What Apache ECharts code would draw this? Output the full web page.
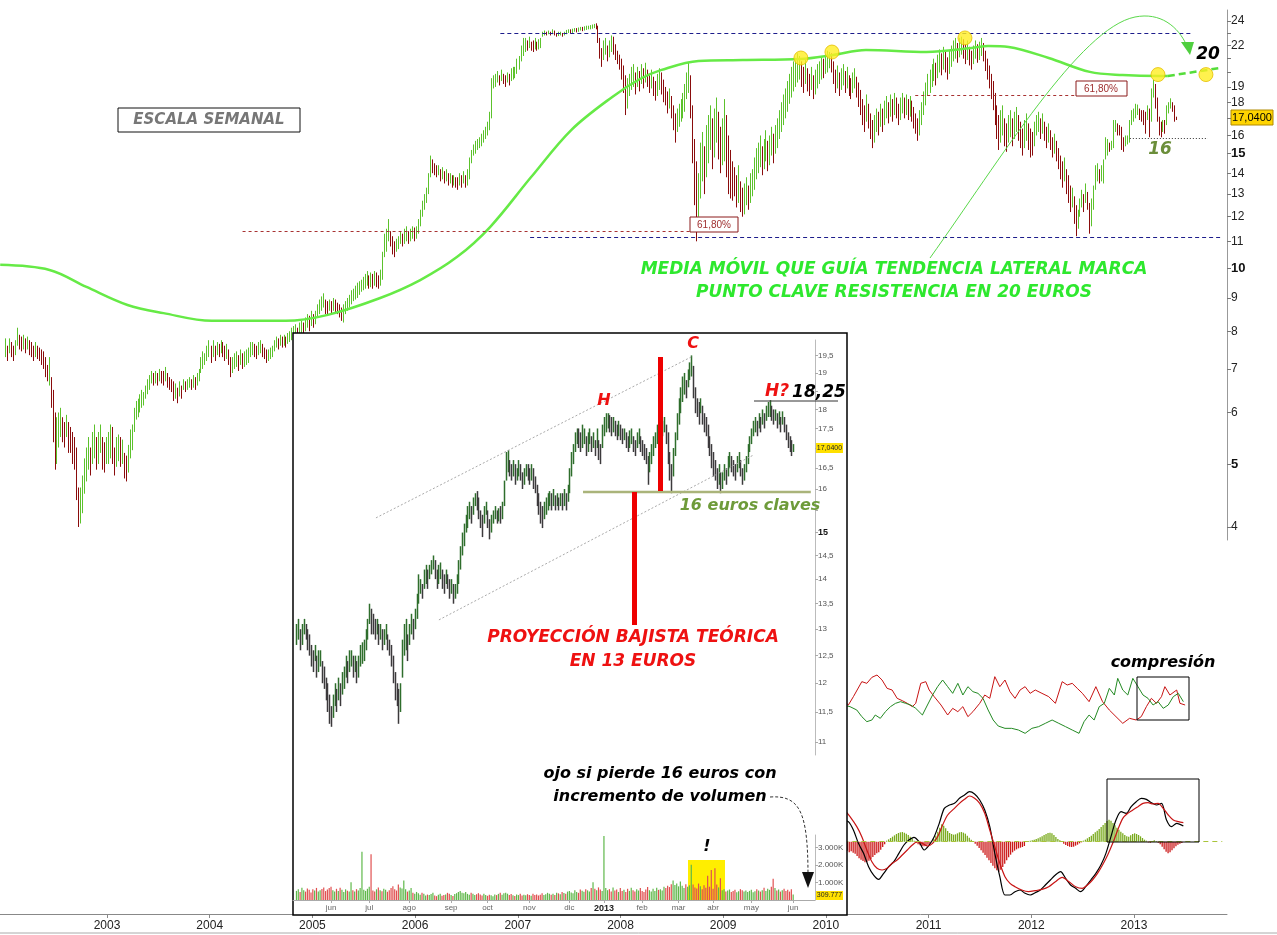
<!DOCTYPE html>
<html><head><meta charset="utf-8">
<script src="https://cdn.jsdelivr.net/npm/echarts@6.0.0/dist/echarts.min.js"></script>
<style>html,body{margin:0;padding:0;background:#fff}#c{width:1277px;height:935px}</style>
</head><body><div id="c"></div>
<script>
// ---------- WEEKLY PRICE (low, high) per week, by year ----------
const w2002=[[7.3,7.8],[7.2,7.6],[7.4,7.8],[7.3,7.7],[7.2,7.6],[7.35,7.75],[7.6,8.1],[7.5,7.9],[7.45,7.85],[7.5,7.9],
[7.4,7.8],[7.5,7.85],[7.35,7.75],[7.3,7.7],[7.2,7.6],[7.3,7.7],[7.25,7.6],[7.2,7.55],[7.1,7.5],[7.0,7.45],
[6.8,7.3],[6.7,7.1],[6.6,7.3],[6.1,6.8],[5.4,6.5],[4.9,6.0],[5.0,5.9],[5.3,6.0],[5.5,6.1],[5.4,5.9],
[5.3,5.8],[5.5,5.95],[5.2,5.8],[5.2,5.7],[5.0,5.6],[4.9,5.5],[4.4,5.3],[4.0,4.6],[4.05,4.6],[4.2,4.8],
[4.5,5.1],[4.7,5.3],[4.9,5.5],[4.8,5.3],[5.0,5.6],[5.1,5.75],[4.9,5.5],[5.0,5.6],[5.2,5.75],[4.9,5.5],
[4.85,5.4],[5.0,5.5]];
const w2003=[[5.0,5.6],[5.1,5.75],[5.0,5.7],[4.8,5.3],[4.95,5.5],[5.05,5.55],[4.95,5.5],[5.0,5.45],[4.75,5.2],[4.7,5.15],
[4.85,5.35],[5.1,5.65],[5.25,5.75],[5.6,6.1],[5.85,6.25],[5.9,6.3],[6.0,6.4],[6.1,6.5],[6.15,6.45],[6.3,6.6],
[6.4,6.75],[6.5,6.85],[6.65,6.95],[6.6,6.9],[6.65,6.95],[6.6,6.9],[6.7,7.0],[6.65,6.95],[6.6,6.95],[6.7,7.05],
[6.55,6.9],[6.5,6.8],[6.45,6.75],[6.25,6.7],[6.3,6.65],[6.2,6.55],[6.35,6.7],[6.3,6.6],[6.5,6.75],[6.45,6.7],
[6.5,6.75],[6.55,6.8],[6.5,6.75],[6.55,6.85],[6.5,6.8],[6.6,6.9],[6.7,7.0],[6.9,7.3],[7.0,7.45],[7.1,7.4],
[7.2,7.6],[7.3,7.75]];
const w2004=[[7.15,7.6],[7.3,7.75],[7.2,7.6],[7.35,7.7],[7.3,7.65],[7.4,7.75],[7.3,7.7],[7.2,7.6],[7.25,7.65],[7.1,7.5],
[6.8,7.3],[6.9,7.3],[7.0,7.4],[7.05,7.45],[6.95,7.35],[7.1,7.5],[7.0,7.4],[7.05,7.45],[7.1,7.5],[7.15,7.55],
[7.3,7.7],[7.35,7.7],[7.3,7.65],[7.25,7.6],[7.35,7.7],[7.4,7.75],[7.3,7.65],[7.25,7.55],[7.15,7.5],[7.2,7.5],
[7.25,7.55],[7.3,7.6],[7.45,7.75],[7.55,7.85],[7.5,7.8],[7.6,7.9],[7.55,7.85],[7.6,7.9],[7.55,7.85],[7.65,7.95],
[7.7,8.0],[7.75,8.1],[7.8,8.15],[7.8,8.2],[7.75,8.1],[7.85,8.25],[7.9,8.3],[7.85,8.25],[8.0,8.4],[8.1,8.5],
[8.0,8.45],[8.15,8.6]];
const w2005=[[8.1,8.5],[8.2,8.6],[8.4,8.8],[8.5,8.95],[8.6,9.05],[8.7,9.15],[8.5,8.95],[8.45,8.9],[8.6,8.95],[8.5,8.9],
[8.6,9.0],[8.55,8.95],[8.5,8.85],[8.4,8.8],[8.3,8.7],[8.25,8.8],[8.5,8.9],[8.6,9.0],[8.7,9.1],[8.8,9.25],
[8.9,9.3],[8.95,9.4],[9.0,9.5],[9.1,9.55],[9.2,9.6],[9.25,9.7],[9.3,9.8],[9.4,9.9],[9.3,9.75],[9.35,9.85],
[9.3,9.8],[9.4,9.9],[9.35,9.85],[9.3,9.75],[9.4,9.95],[9.6,10.6],[10.4,11.3],[10.6,11.5],[11.0,11.9],[10.8,11.4],
[10.5,11.2],[10.4,11.0],[10.6,11.1],[10.7,11.2],[10.9,11.4],[10.8,11.3],[10.9,11.5],[11.0,11.6],[10.9,11.4],[11.0,11.5],
[11.1,11.6],[11.0,11.55]];
const w2006=[[11.1,11.6],[11.3,11.9],[11.6,12.3],[12.0,12.7],[12.3,13.0],[12.6,13.3],[13.0,14.0],[13.8,14.9],[14.0,14.7],[13.9,14.5],
[13.8,14.4],[13.9,14.4],[13.6,14.2],[13.7,14.3],[13.5,14.1],[13.6,14.2],[13.4,14.0],[13.5,14.0],[13.3,13.9],[13.4,13.9],
[13.3,13.8],[13.2,13.8],[13.4,14.0],[13.3,13.9],[13.5,14.1],[13.3,13.9],[13.4,14.2],[13.7,14.8],[14.5,15.2],[14.9,15.5],
[15.0,15.7],[15.2,15.8],[15.3,15.9],[15.4,16.1],[15.6,16.3],[15.8,16.5],[16.0,16.8],[16.3,17.4],[17.0,19.6],[18.9,19.8],
[19.0,19.9],[19.3,20.1],[19.1,19.8],[19.4,20.2],[19.2,19.9],[19.0,19.8],[19.3,20.0],[19.1,19.9],[19.4,20.3],[19.5,20.4],
[19.6,20.4],[19.9,21.0]];
const w2007=[[20.2,21.2],[20.8,22.0],[21.2,22.6],[21.5,22.6],[21.6,22.4],[21.8,22.7],[21.6,22.3],[21.5,22.4],[21.7,22.6],[21.6,22.3],
[21.7,22.5],[21.8,22.6],[22.7,23.1],[22.8,23.2],[22.8,23.1],[22.9,23.2],[22.8,23.1],[22.9,23.3],[22.8,23.2],[22.7,23.0],
[22.75,23.1],[22.8,23.1],[22.7,23.0],[22.8,23.1],[22.9,23.25],[23.0,23.3],[22.95,23.3],[23.0,23.35],[23.1,23.4],[23.05,23.4],
[23.1,23.45],[23.2,23.5],[23.15,23.5],[23.2,23.55],[23.25,23.6],[23.3,23.6],[23.3,23.65],[23.35,23.7],[23.4,23.75],[23.3,23.8],
[22.2,23.6],[21.0,22.6],[20.4,21.8],[20.9,22.4],[21.3,22.6],[20.8,22.0],[21.1,22.4],[21.5,22.8],[21.3,22.7],[20.9,22.1],
[20.6,21.6],[20.2,21.3]];
const w2008=[[19.5,21.0],[18.6,20.5],[17.2,19.8],[17.6,19.6],[18.4,19.9],[18.8,20.4],[19.0,20.6],[18.5,20.0],[19.0,20.4],[18.7,20.1],
[19.2,20.6],[18.9,20.3],[19.3,20.7],[19.0,20.2],[18.6,19.8],[18.9,20.2],[18.4,19.7],[18.1,19.4],[18.4,19.9],[18.8,20.3],
[18.5,20.0],[18.0,19.5],[17.8,19.0],[17.3,18.7],[17.6,18.9],[17.0,18.4],[16.3,17.8],[15.6,17.3],[16.2,17.6],[16.5,17.9],
[16.8,18.2],[17.0,18.6],[17.4,19.2],[18.2,20.0],[18.6,20.7],[17.0,19.8],[14.5,17.8],[12.5,15.8],[11.0,14.6],[12.0,14.0],
[12.8,15.6],[13.6,16.2],[13.0,15.4],[13.8,16.6],[14.5,17.2],[15.2,17.8],[14.2,17.0],[14.8,17.6],[15.6,18.3],[14.7,17.4],
[14.0,16.5],[14.4,17.0]];
const w2009=[[14.6,18.2],[13.8,17.2],[13.0,16.0],[12.8,15.2],[12.7,14.6],[12.9,14.3],[12.4,13.9],[12.6,14.4],[12.2,13.6],[12.0,13.3],
[12.1,13.5],[12.5,13.8],[12.3,13.4],[12.6,14.0],[12.9,14.2],[13.2,14.8],[13.7,15.3],[14.0,15.6],[14.3,16.0],[13.9,15.4],
[14.2,15.8],[14.6,16.3],[14.1,15.7],[14.4,16.0],[14.9,16.5],[14.5,16.1],[15.0,16.6],[15.3,17.0],[15.8,17.5],[16.2,18.0],
[16.6,18.5],[17.0,18.9],[17.4,19.4],[17.9,19.9],[18.3,20.4],[18.7,20.8],[19.0,21.0],[19.3,21.4],[19.5,21.2],[19.0,20.8],
[18.6,20.4],[19.2,20.9],[18.7,20.3],[18.4,19.9],[18.8,20.4],[18.2,19.8],[18.5,20.2],[18.9,20.6],[19.2,20.8],[19.5,21.2],
[19.6,21.0],[19.9,21.3]];
const w2010=[[20.0,21.6],[20.3,21.5],[20.0,21.4],[19.2,20.8],[18.6,20.2],[18.9,20.5],[18.4,20.0],[18.8,20.3],[19.1,20.6],[18.6,20.1],
[18.9,20.4],[18.4,19.8],[18.2,19.6],[18.6,20.0],[18.9,20.3],[18.3,19.7],[17.7,19.3],[17.2,18.8],[16.6,18.2],[16.2,17.8],
[16.8,18.5],[16.4,17.9],[15.8,17.3],[15.3,16.9],[15.6,17.2],[16.2,17.6],[16.0,17.4],[16.5,17.9],[16.2,17.6],[16.6,18.1],
[17.0,18.4],[16.7,18.0],[17.1,18.5],[16.8,18.2],[17.2,18.6],[17.0,18.3],[16.6,17.9],[16.9,18.3],[17.3,18.6],[17.0,18.3],
[17.2,18.5],[16.9,18.2],[17.1,18.4],[16.8,18.1],[16.4,17.7],[16.1,17.3],[15.7,17.0],[16.0,17.5],[16.6,18.0],[17.2,18.7],
[17.8,19.3],[18.4,19.9]];
const w2011=[[18.6,20.2],[19.0,20.6],[19.4,21.0],[19.1,20.7],[19.6,21.3],[20.0,21.7],[19.8,21.4],[20.2,21.9],[20.0,21.6],[19.5,21.1],
[19.9,21.6],[20.4,22.0],[20.8,22.4],[21.0,22.6],[20.7,22.2],[21.1,22.6],[21.3,22.7],[21.0,22.5],[20.6,22.1],[20.9,22.4],
[20.5,21.9],[20.2,21.6],[20.6,22.0],[21.0,22.4],[20.7,22.1],[20.9,22.3],[21.2,22.6],[20.8,22.2],[20.1,21.6],[19.5,21.0],
[18.9,20.5],[18.2,19.9],[17.5,19.4],[16.6,18.6],[15.8,17.8],[15.2,17.2],[15.6,17.5],[16.0,17.8],[15.4,17.0],[15.1,16.7],
[15.6,17.2],[15.9,17.5],[15.4,17.0],[15.8,17.4],[16.2,17.7],[15.7,17.2],[15.3,16.8],[14.9,16.4],[15.3,16.9],[15.7,17.3],
[15.2,16.7],[14.8,16.4]];
const w2012=[[14.9,16.2],[15.4,16.8],[16.0,17.2],[16.2,17.4],[15.8,17.0],[16.1,17.3],[15.7,16.8],[15.3,16.5],[15.6,16.7],[15.2,16.3],
[14.8,15.9],[15.0,16.1],[14.6,15.7],[14.2,15.3],[13.7,14.9],[13.3,14.6],[13.6,14.8],[13.0,14.2],[12.6,13.9],[12.2,13.4],
[12.4,13.3],[11.7,12.9],[11.2,12.5],[11.5,12.3],[12.0,12.8],[12.4,13.2],[12.2,13.0],[12.6,13.5],[12.3,13.1],[11.3,12.6],
[11.6,12.8],[12.3,13.4],[13.2,14.4],[13.6,14.5],[13.5,14.2],[13.6,14.4],[13.5,14.7],[14.7,15.9],[14.9,15.8],[15.1,15.6],
[15.2,15.7],[15.3,16.9],[16.2,16.9],[16.0,16.7],[16.0,16.6],[15.2,16.5],[15.1,15.9],[15.4,16.0],[15.5,16.0],[15.6,16.9],
[16.6,17.5],[16.8,17.6]];
const w2013=[[17.0,17.9],[17.2,17.85],[16.9,17.6],[16.8,17.5],[16.6,17.5],[16.1,17.4],[16.9,17.8],[15.9,17.6],[16.8,18.9],[18.3,19.5],
[17.6,19.2],[16.8,18.3],[16.0,17.1],[15.9,16.8],[16.2,16.9],[16.1,16.9],[16.6,17.8],[17.3,18.0],[17.6,18.25],[17.4,18.0],
[16.8,17.8],[16.9,17.1]];
const weeklyYears=[[2002,w2002],[2003,w2003],[2004,w2004],[2005,w2005],[2006,w2006],[2007,w2007],[2008,w2008],[2009,w2009],[2010,w2010],[2011,w2011],[2012,w2012],[2013,w2013]];

// moving average [year, price]
const maData=[[2001.96,10.12],[2002.44,9.94],[2002.80,9.36],[2003.20,8.78],[2003.55,8.53],[2004.02,8.30],[2004.74,8.30],[2005.14,8.47],[2005.66,9.00],[2006.05,9.59],[2006.41,10.41],[2006.73,11.57],[2007.13,13.81],[2007.52,16.31],[2007.92,18.34],[2008.19,19.54],[2008.40,20.18],[2008.76,20.83],[2009.19,20.90],[2009.75,20.98],[2010.07,21.28],[2010.39,21.66],[2010.98,21.51],[2011.42,21.81],[2011.58,21.97],[2011.78,21.89],[2012.17,21.05],[2012.57,20.04],[2012.89,19.82],[2013.25,19.75],[2013.33,19.75]];
const maProjection=[[2013.33,19.75],[2013.84,20.32]];
const keyPoints=[[2009.757,21.05],[2010.059,21.5],[2011.354,22.6],[2013.234,19.85],[2013.701,19.85]];
const yearTicks=[2003,2004,2005,2006,2007,2008,2009,2010,2011,2012,2013];
const priceTicks=[4,5,6,7,8,9,10,11,12,13,14,15,16,17,18,19,20,21,22,23,24];
const priceLabels=[4,5,6,7,8,9,10,11,12,13,14,15,16,18,19,22,24];

// ---------- indicators ----------
const dmiRed=[[2010.170,24],[2010.219,21],[2010.268,26],[2010.350,35],[2010.399,34],[2010.448,37.6],[2010.498,39],[2010.547,36],[2010.596,31],[2010.645,30],[2010.694,25],[2010.744,23.6],[2010.793,22],[2010.842,20],[2010.875,22],[2010.924,34],[2010.973,35],[2011.006,30],[2011.055,26],[2011.121,21],[2011.186,15],[2011.235,19],[2011.285,17],[2011.334,20],[2011.383,14],[2011.432,17],[2011.498,22],[2011.547,27],[2011.596,25],[2011.645,38],[2011.694,32],[2011.744,36],[2011.793,29],[2011.842,25],[2011.891,30],[2011.940,32],[2011.989,28],[2012.039,30],[2012.104,28],[2012.170,26],[2012.235,22],[2012.301,35],[2012.350,33],[2012.399,34],[2012.448,31],[2012.498,28],[2012.563,23],[2012.629,32],[2012.694,23],[2012.760,18],[2012.825,14],[2012.891,10],[2012.957,13],[2013.022,12],[2013.071,14],[2013.121,20],[2013.170,25],[2013.219,22],[2013.268,26],[2013.301,32],[2013.350,27],[2013.416,30],[2013.448,22],[2013.498,21]];
const dmiGreen=[[2010.170,21],[2010.235,20],[2010.301,18],[2010.350,14],[2010.399,11],[2010.448,12],[2010.481,15],[2010.530,13],[2010.580,17],[2010.629,20],[2010.678,22],[2010.727,23],[2010.776,22],[2010.826,21],[2010.875,19],[2010.940,15],[2010.989,21],[2011.039,27],[2011.088,32],[2011.137,36],[2011.186,32],[2011.235,28],[2011.285,34],[2011.334,27],[2011.383,32],[2011.432,29],[2011.481,28],[2011.530,25],[2011.580,18],[2011.629,12],[2011.678,8.4],[2011.744,7],[2011.809,7],[2011.875,6],[2011.940,4],[2012.006,7],[2012.071,8],[2012.137,10],[2012.203,12],[2012.268,10],[2012.334,8],[2012.399,6],[2012.465,4],[2012.514,11],[2012.563,15],[2012.612,12],[2012.662,20],[2012.711,22],[2012.760,31],[2012.809,27],[2012.842,37],[2012.891,30],[2012.940,27],[2012.989,37],[2013.039,32],[2013.088,27],[2013.137,25],[2013.186,21],[2013.235,23],[2013.285,19],[2013.334,21],[2013.383,26],[2013.432,28],[2013.481,23]];
const macdLine=[[2010.170,6.5],[2010.219,6],[2010.268,3.5],[2010.317,-0.5],[2010.367,-3.5],[2010.416,-7.5],[2010.465,-10],[2010.514,-11.3],[2010.563,-9.5],[2010.612,-7.5],[2010.662,-6],[2010.711,-3.5],[2010.760,-1],[2010.809,0.5],[2010.858,1.3],[2010.907,0],[2010.957,-2.5],[2011.006,-1],[2011.055,1.5],[2011.104,5.5],[2011.153,10],[2011.203,11],[2011.252,11.5],[2011.301,13],[2011.350,14],[2011.399,15],[2011.448,14.3],[2011.498,12.5],[2011.547,9.5],[2011.596,4.5],[2011.645,-3.5],[2011.694,-10.5],[2011.744,-16],[2011.793,-16],[2011.842,-15],[2011.891,-14.5],[2011.940,-15.5],[2011.989,-16],[2012.039,-15.3],[2012.088,-14.5],[2012.137,-13],[2012.186,-11.5],[2012.235,-10],[2012.285,-9],[2012.334,-11],[2012.383,-13],[2012.432,-14],[2012.481,-15],[2012.530,-13.5],[2012.580,-11.5],[2012.629,-9.5],[2012.678,-7],[2012.727,-3.5],[2012.776,1.5],[2012.825,6.5],[2012.875,9],[2012.924,8.5],[2012.973,10.5],[2013.022,12],[2013.071,13],[2013.121,12.7],[2013.170,11.7],[2013.219,11],[2013.268,11.5],[2013.317,6.5],[2013.366,4.5],[2013.416,5.5],[2013.481,4.7]];
const macdSignal=[[2010.170,10],[2010.235,7.5],[2010.301,4.5],[2010.350,1.5],[2010.399,-2.5],[2010.448,-6],[2010.498,-8],[2010.547,-8.5],[2010.596,-8],[2010.645,-6.5],[2010.694,-5.5],[2010.744,-4],[2010.793,-2.5],[2010.842,-1],[2010.891,0],[2010.940,-0.5],[2010.989,-1.3],[2011.039,-0.5],[2011.088,1.5],[2011.137,5],[2011.186,8],[2011.252,10],[2011.301,11.5],[2011.350,12.7],[2011.399,13.7],[2011.448,13],[2011.498,11.5],[2011.547,8.5],[2011.596,3.5],[2011.645,-1.5],[2011.694,-6.5],[2011.744,-10.5],[2011.793,-12.5],[2011.842,-13.5],[2011.907,-14.5],[2011.973,-15],[2012.039,-14.7],[2012.104,-14.3],[2012.170,-13.5],[2012.235,-12],[2012.301,-10.7],[2012.367,-12],[2012.432,-13.5],[2012.498,-14],[2012.547,-13],[2012.596,-11.5],[2012.645,-9.5],[2012.694,-7],[2012.744,-4],[2012.793,-0.5],[2012.842,3.5],[2012.891,7],[2012.940,8.5],[2012.989,9.5],[2013.039,10.5],[2013.088,11.5],[2013.137,11.7],[2013.186,11.3],[2013.235,11.5],[2013.285,10],[2013.334,8],[2013.383,6.5],[2013.432,6],[2013.481,5.7]];
const histStart=2010.17;
const macdHist=[-2.5,-3,-2.7,-3.2,-2.9,-3.3,-3.6,-4.3,-5,-5.4,-5.8,-6.2,-6,-5.7,-5.2,-4.6,-4,-3.5,-3.2,-2.4,-1.6,-0.8,
0.3,0.7,1.1,1.5,1.9,2.3,2.6,2.8,2.9,2.7,2.4,2.0,1.5,0.9,0.3,
-0.4,-0.8,-1.1,-1.3,-1.4,-1.2,-0.9,-0.6,-0.2,
0.8,1.8,3.0,4.2,5.2,4.8,4.0,3.2,2.6,2.3,2.1,2.2,2.5,2.8,2.9,2.7,2.4,1.8,1.2,0.6,0.2,
-0.6,-1.2,-1.9,-2.6,-3.3,-4.0,-4.8,-5.6,-6.4,-7.2,-8.0,-8.6,-9.0,-8.4,-7.6,-6.6,-5.6,-4.7,-3.9,-3.2,-2.7,-2.3,-2.0,-1.8,-1.6,-1.3,
0.1,0.2,0.3,0.4,0.6,0.8,1.0,1.3,1.6,2.0,2.3,2.6,2.7,2.5,2.0,1.4,0.8,0.4,0.1,
-0.6,-1.0,-1.3,-1.5,-1.6,-1.5,-1.2,-0.9,-0.5,-0.2,
0.3,0.6,1.0,1.4,1.8,2.3,2.8,3.3,3.8,4.4,5.0,5.6,6.2,6.6,6.3,5.6,4.9,4.2,3.6,3.0,2.5,2.0,1.6,1.5,1.9,2.3,2.5,2.3,2.0,1.6,1.1,0.6,0.3,
-0.2,-0.3,0.2,0.4,0.2,-0.3,-0.8,-1.5,-2.3,-3.0,-3.5,-3.2,-2.6,-2.0,-1.4,-0.9,-0.6,-0.4];

// ---------- INSET: daily (low, high) from trading day -19 (0 = 1 jun 2012) ----------
const dailyStart=-19;
const daily=[[12.7,13.1],[12.8,13.2],[12.6,13.0],[12.7,13.1],[12.9,13.2],[12.8,13.1],[12.6,13.0],[12.5,12.9],
[12.3,12.7],[12.2,12.6],[12.4,12.7],[12.1,12.5],[12.2,12.6],[12.3,12.6],[12.0,12.4],[11.9,12.3],
[11.7,12.1],[11.5,12.0],[11.3,11.8],[11.25,11.6],[11.4,11.8],[11.6,12.0],[11.5,11.9],[11.7,12.1],
[11.6,12.0],[11.8,12.2],[11.9,12.3],[12.1,12.5],[12.0,12.4],[12.2,12.6],[12.3,12.6],[12.1,12.5],
[12.2,12.5],[12.0,12.4],[12.1,12.5],[12.3,12.7],[12.35,12.75],[12.4,12.8],[12.6,13.0],[12.8,13.2],
[13.1,13.5],[12.9,13.4],[12.9,13.3],[12.8,13.2],[12.9,13.2],[12.7,13.1],[12.8,13.1],[12.6,13.0],
[12.7,13.0],[12.8,13.1],[12.6,12.9],[12.5,12.8],[12.3,12.7],[12.0,12.5],[11.7,12.2],[11.6,12.0],
[11.3,11.9],[11.5,12.0],[12.1,12.8],[12.5,13.1],[12.6,13.2],[12.4,12.9],[12.7,13.1],[12.9,13.3],
[12.8,13.2],[13.0,13.4],[13.2,13.7],[13.5,14.1],[13.7,14.0],[13.6,13.9],[13.8,14.2],[13.9,14.3],
[13.8,14.2],[14.0,14.3],[14.1,14.4],[14.2,14.5],[14.0,14.4],[13.8,14.2],[13.9,14.3],[14.0,14.35],
[13.8,14.2],[13.7,14.1],[13.9,14.2],[13.8,14.1],[13.6,14.0],[13.7,14.0],[13.5,13.9],[13.6,13.9],
[13.7,14.1],[13.9,14.4],[14.2,14.7],[14.5,15.0],[14.7,15.2],[15.0,15.4],[15.1,15.6],[15.3,15.7],
[15.2,15.6],[15.4,15.8],[15.6,15.9],[15.5,15.95],[15.3,15.8],[15.1,15.5],[14.9,15.4],[15.2,15.6],
[15.4,15.7],[15.1,15.5],[14.85,15.3],[15.0,15.4],[15.2,15.5],[15.3,15.6],[15.2,15.5],[15.25,15.55],
[15.2,15.6],[15.3,15.7],[15.6,16.2],[16.2,16.9],[16.4,16.95],[16.3,16.7],[16.2,16.6],[16.3,16.7],
[16.1,16.6],[16.2,16.5],[16.3,16.7],[16.2,16.6],[16.0,16.4],[16.1,16.5],[16.3,16.6],[16.2,16.6],
[16.1,16.5],[16.2,16.6],[16.0,16.5],[15.9,16.3],[15.6,16.1],[15.4,15.9],[15.2,15.7],[15.1,15.6],
[15.3,15.7],[15.4,15.8],[15.5,15.9],[15.6,15.95],[15.5,15.9],[15.6,16.0],[15.5,15.85],[15.6,15.9],
[15.5,15.8],[15.6,15.9],[15.5,15.9],[15.6,16.0],[15.5,15.9],[15.7,16.1],[15.9,16.5],[16.3,16.9],
[16.6,17.1],[16.9,17.4],[17.1,17.5],[17.0,17.5],[16.9,17.4],[17.0,17.6],[17.1,17.5],[16.8,17.3],
[16.9,17.4],[17.1,17.5],[16.9,17.3],[17.0,17.4],[16.8,17.2],[17.0,17.5],[16.7,17.2],[16.6,17.1],
[17.0,17.6],[17.3,17.8],[17.4,17.9],[17.5,17.9],[17.4,17.85],[17.3,17.8],[17.4,17.8],[17.3,17.7],
[17.2,17.6],[17.3,17.7],[17.2,17.6],[17.1,17.5],[17.2,17.5],[17.0,17.4],[16.9,17.3],[17.0,17.45],
[17.1,17.5],[16.9,17.3],[16.8,17.2],[17.0,17.4],[17.1,17.5],[16.9,17.3],[16.8,17.2],[16.7,17.1],
[16.6,17.0],[16.1,16.8],[16.4,16.9],[16.6,17.1],[16.8,17.3],[17.0,17.4],[17.1,17.6],[16.9,17.5],
[17.2,17.6],[17.3,17.7],[17.4,17.8],[17.1,17.6],[16.6,17.4],[16.2,16.9],[15.9,16.6],[16.3,17.0],
[16.8,17.4],[17.2,17.9],[17.6,18.3],[17.9,18.6],[18.2,18.9],[18.4,19.0],[18.3,18.8],[18.6,19.1],
[18.8,19.3],[18.9,19.5],[18.3,19.2],[17.9,18.6],[17.8,18.3],[17.6,18.2],[17.9,18.3],[17.6,18.1],
[17.4,17.9],[17.3,17.8],[17.0,17.6],[16.8,17.3],[16.5,17.1],[16.3,16.9],[16.2,16.7],[16.0,16.5],
[16.1,16.6],[15.9,16.4],[16.0,16.4],[16.2,16.6],[16.1,16.5],[16.3,16.8],[16.5,16.9],[16.4,16.8],
[16.3,16.7],[16.2,16.6],[16.4,16.8],[16.5,16.9],[16.3,16.7],[16.1,16.5],[16.2,16.6],[16.4,16.8],
[16.6,17.1],[16.9,17.3],[17.1,17.5],[17.3,17.7],[17.4,17.8],[17.3,17.7],[17.5,17.9],[17.4,17.8],
[17.6,18.0],[17.5,17.9],[17.7,18.1],[17.8,18.2],[17.8,18.25],[17.7,18.1],[17.6,18.0],[17.7,18.0],
[17.5,17.9],[17.6,17.95],[17.4,17.8],[17.6,17.95],[17.4,17.8],[17.2,17.6],[17.0,17.4],[16.9,17.3],
[16.8,17.2],[16.9,17.1]];
// daily volume, thousands
const volume=[520,610,450,700,560,480,650,590,430,620,
540,690,480,560,630,720,510,600,680,750,
560,480,640,520,700,580,450,610,530,490,
1020,560,480,620,540,690,2750,580,520,640,
760,2620,540,480,610,720,560,500,640,580,
470,560,690,780,620,540,880,720,650,1120,
620,480,540,690,410,350,460,380,300,420,
360,250,310,280,340,420,260,220,300,350,
240,280,320,410,360,280,230,340,390,450,
520,410,380,460,350,300,420,360,280,330,
390,310,260,350,280,240,300,270,220,310,
280,350,410,300,380,420,360,290,340,270,
230,310,280,360,250,300,270,330,290,240,
350,280,320,260,300,380,290,330,410,350,
300,360,280,420,380,330,450,400,360,480,
520,430,380,560,460,410,600,530,470,620,
550,480,680,1020,640,560,720,600,520,3650,
680,560,620,480,720,540,600,460,680,520,
580,450,640,520,700,560,490,620,540,680,
520,460,600,740,560,480,640,520,700,580,
620,540,760,680,820,740,900,1120,860,940,
780,1050,820,680,900,760,840,2020,880,720,
660,940,780,620,840,700,1380,760,1720,640,
1820,880,720,1240,560,620,480,540,600,460,
520,580,440,500,620,560,480,540,460,520,
580,440,500,620,540,480,560,700,520,640,
580,760,1220,680,540,600,480,560,640,520,
580,480,620,310];
const monthTicks=[0,21,43,66,86,109,131,150,171,191,210,231,254];
const monthNames=['jun','jul','ago','sep','oct','nov','dic','2013','feb','mar','abr','may','jun'];
const insetTicks=[11,11.5,12,12.5,13,13.5,14,14.5,15,15.5,16,16.5,17,17.5,18,18.5,19,19.5];
const insetLabels=[11,11.5,12,12.5,13,13.5,14,14.5,15,16,16.5,17.5,18,19,19.5];
const volTicks=[1000,2000,3000];
const channelUpper=[[24.7,15.33],[198.9,19.48]];
const channelLower=[[59.3,13.18],[232.4,16.83]];
const keyLevel=[[138.5,15.93],[263.7,15.93]];

// ---------- build ----------
const WEEK=7/365.25;
const weekly=[];
let pm=null;
weeklyYears.forEach(([y,arr])=>arr.forEach((p,j)=>{
  const mid=(p[0]+p[1])/2; const up=(pm===null||mid>=pm)?1:0; pm=mid;
  weekly.push([y+(j+0.5)*WEEK,p[0],p[1],up]);
}));
const dailyData=[]; const volData=[]; pm=null;
daily.forEach((p,i)=>{
  const d=dailyStart+i; const mid=(p[0]+p[1])/2; const up=(pm===null||mid>=pm)?1:0; pm=mid;
  dailyData.push([d,p[0],p[1],up]);
  volData.push({value:[d,volume[i]],itemStyle:{color:up?'#5fb84a':'#e05050'}});
});
const histData=macdHist.map((v,k)=>({value:[histStart+k*WEEK,v],itemStyle:{color:v>=0?'#7aab1e':'#cc1a1a'}}));

function vbar(cUp,cDown,lw){
  return function(params,api){
    const a=api.coord([api.value(0),api.value(1)]);
    const b=api.coord([api.value(0),api.value(2)]);
    const x=Math.round(a[0])+0.5;
    return {type:'line',shape:{x1:x,y1:a[1],x2:x,y2:b[1]},style:{stroke:api.value(3)?cUp:cDown,lineWidth:lw}};
  };
}
const X0=2001.958, X1=2013.906;
const FONT='"DejaVu Sans", "Liberation Sans", sans-serif';
function txt(x,y,t,size,fill){
  return {type:'text',z:50,style:{x:x,y:y,text:t,font:'italic bold '+size+'px '+FONT,fill:fill,textAlign:'center',textVerticalAlign:'middle'}};
}
function bez(x1,y1,c1x,c1y,c2x,c2y,x2,y2,stroke,dash){
  return {type:'bezierCurve',z:45,shape:{x1:x1,y1:y1,cpx1:c1x,cpy1:c1y,cpx2:c2x,cpy2:c2y,x2:x2,y2:y2},style:{fill:'none',stroke:stroke,lineWidth:1,lineDash:dash||null}};
}
const r=(v)=>Math.round(v*1000)/1000;
const hidden={show:false};
function hx(i){return {gridIndex:i,type:'value',min:X0,max:X1,show:false};}

const option={
  animation:false,
  backgroundColor:'#fff',
  grid:[
    {left:0,top:10,width:1227,height:530},
    {left:0,top:640,width:1227,height:100},
    {left:0,top:781.67,width:1227,height:120},
    {left:0,top:890,width:1227,height:24},
    {left:293,top:340,width:522,height:415},
    {left:293,top:835,width:522,height:65}
  ],
  xAxis:[
    hx(0),hx(1),hx(2),
    {gridIndex:3,type:'value',min:X0,max:X1,position:'bottom',
      axisLine:{onZero:false,lineStyle:{color:'#888'}},
      axisTick:{customValues:yearTicks,length:4,lineStyle:{color:'#888'}},
      axisLabel:{customValues:yearTicks,formatter:v=>String(Math.round(v)),fontSize:12,color:'#222',margin:6,fontFamily:'Liberation Sans'},
      splitLine:hidden},
    {gridIndex:4,type:'value',min:-20.9,max:266,show:false},
    {gridIndex:5,type:'value',min:-20.9,max:266,position:'bottom',z:30,
      axisLine:{onZero:false,lineStyle:{color:'#aaa'}},
      axisTick:{customValues:monthTicks,length:3,lineStyle:{color:'#aaa'}},
      axisLabel:{customValues:monthTicks,margin:4,fontSize:8,color:'#666',fontFamily:'Liberation Sans',
        formatter:v=>{const i=monthTicks.indexOf(Math.round(v));const n=i>=0?monthNames[i]:'';return n==='2013'?'{b|2013}':n;},
        rich:{b:{fontWeight:'bold',fontSize:9,color:'#222'}}},
      splitLine:hidden}
  ],
  yAxis:[
    {gridIndex:0,type:'log',min:3.82,max:24.95,position:'right',
      axisLine:{show:true,onZero:false,lineStyle:{color:'#999'}},
      axisTick:{show:true,customValues:priceTicks,length:4,lineStyle:{color:'#777'}},
      axisLabel:{customValues:priceLabels,margin:4,fontSize:12,color:'#222',fontFamily:'Liberation Sans',
        formatter:v=>{const n=Math.round(r(v));return (n===5||n===10||n===15)?'{b|'+n+'}':String(n);},
        rich:{b:{fontWeight:'bold',fontSize:13,color:'#111'}}},
      splitLine:hidden},
    {gridIndex:1,type:'value',min:0,max:60,show:false},
    {gridIndex:2,type:'value',min:-18,max:18,show:false},
    {gridIndex:3,type:'value',min:0,max:1,show:false},
    {gridIndex:4,type:'log',min:10.79,max:19.95,position:'right',z:30,
      axisLine:{show:true,onZero:false,lineStyle:{color:'#bbb'}},
      axisTick:{show:true,customValues:insetTicks,length:3,lineStyle:{color:'#aaa'}},
      axisLabel:{customValues:insetLabels,margin:3,fontSize:8,color:'#555',fontFamily:'Liberation Sans',
        formatter:v=>{const n=r(v);const s=String(n).replace('.',',');return n===15?'{b|15}':s;},
        rich:{b:{fontWeight:'bold',fontSize:9,color:'#111'}}},
      splitLine:hidden},
    {gridIndex:5,type:'value',min:0,max:3714,position:'right',z:30,
      axisLine:{show:true,onZero:false,lineStyle:{color:'#bbb'}},
      axisTick:{show:true,customValues:volTicks,length:3,lineStyle:{color:'#aaa'}},
      axisLabel:{customValues:volTicks,margin:3,fontSize:8,color:'#555',fontFamily:'Liberation Sans',formatter:v=>Math.round(v/1000)+'.000K'},
      splitLine:hidden}
  ],
  series:[
    {type:'custom',name:'semanal',xAxisIndex:0,yAxisIndex:0,z:3,renderItem:vbar('#5cc22c','#8a0c0c',1),
      encode:{x:0,y:[1,2]},data:weekly},
    {type:'line',name:'media',xAxisIndex:0,yAxisIndex:0,z:4,data:maData,smooth:0.35,showSymbol:false,
      lineStyle:{color:'#66ea46',width:2.5},
      markLine:{silent:true,symbol:['none','none'],label:{show:false},animation:false,
        data:[
          [{coord:[2006.83,23.0],lineStyle:{color:'#1d1d8c',type:[4,3],width:1}},{coord:[2013.55,23.0]}],
          [{coord:[2007.12,11.17],lineStyle:{color:'#1d1d8c',type:[4,3],width:1}},{coord:[2013.86,11.17]}],
          [{coord:[2004.32,11.41],lineStyle:{color:'#a83232',type:[3,3],width:1}},{coord:[2008.68,11.41]}],
          [{coord:[2010.87,18.47],lineStyle:{color:'#a83232',type:[3,3],width:1}},{coord:[2012.455,18.47]}],
          [{coord:[2012.96,15.86],lineStyle:{color:'#333',type:[1,2],width:1}},{coord:[2013.72,15.86]}]
        ]}},
    {type:'line',xAxisIndex:0,yAxisIndex:0,z:4,data:maProjection,showSymbol:false,
      lineStyle:{color:'#55dd3a',width:2.5,type:[7,4]}},
    {type:'scatter',xAxisIndex:0,yAxisIndex:0,z:6,data:keyPoints,symbolSize:14,
      itemStyle:{color:'#ffee22',borderColor:'#e5be00',borderWidth:1}},
    {type:'line',xAxisIndex:1,yAxisIndex:1,data:dmiRed,showSymbol:false,lineStyle:{color:'#c81414',width:1}},
    {type:'line',xAxisIndex:1,yAxisIndex:1,data:dmiGreen,showSymbol:false,lineStyle:{color:'#238a23',width:1}},
    {type:'bar',xAxisIndex:2,yAxisIndex:2,data:histData,barWidth:1.3,
      markLine:{silent:true,symbol:['none','none'],label:{show:false},animation:false,
        data:[[{coord:[2010.17,0],lineStyle:{color:'#a9c43a',type:[5,4],width:1}},{coord:[2013.86,0]}]]}},
    {type:'line',xAxisIndex:2,yAxisIndex:2,data:macdLine,showSymbol:false,smooth:0.3,lineStyle:{color:'#000',width:1.2}},
    {type:'line',xAxisIndex:2,yAxisIndex:2,data:macdSignal,showSymbol:false,smooth:0.3,lineStyle:{color:'#c81414',width:1.2}},
    {type:'custom',xAxisIndex:4,yAxisIndex:4,z:20,renderItem:vbar('#2f6e2c','#3c3a3c',1.5),encode:{x:0,y:[1,2]},data:dailyData},
    {type:'line',xAxisIndex:4,yAxisIndex:4,z:22,data:channelUpper,showSymbol:false,lineStyle:{color:'#aaa',width:1,type:[2,2]}},
    {type:'line',xAxisIndex:4,yAxisIndex:4,z:22,data:channelLower,showSymbol:false,lineStyle:{color:'#aaa',width:1,type:[2,2]}},
    {type:'line',xAxisIndex:4,yAxisIndex:4,z:22,data:keyLevel,showSymbol:false,lineStyle:{color:'#aab47a',width:2.5}},
    {type:'bar',xAxisIndex:5,yAxisIndex:5,z:20,data:volData,barWidth:1.2}
  ],
  graphic:[
    {type:'rect',z:10,shape:{x:293,y:333,width:554,height:582},style:{fill:'#fff',stroke:'#000',lineWidth:1.5}},
    {type:'rect',z:15,shape:{x:688,y:860,width:37,height:40},style:{fill:'#ffee00'}},
    {type:'rect',z:40,shape:{x:658,y:357,width:5,height:134},style:{fill:'#ee0000'}},
    {type:'rect',z:40,shape:{x:632,y:492,width:5,height:133},style:{fill:'#ee0000'}},
    {type:'line',z:40,shape:{x1:754,y1:401,x2:838,y2:401},style:{stroke:'#333',lineWidth:1}},
    {type:'line',z:5,shape:{x1:0,y1:933,x2:1277,y2:933},style:{stroke:'#aaa',lineWidth:1}},
    {type:'rect',z:50,shape:{x:118,y:108,width:182,height:24},style:{fill:'none',stroke:'#111',lineWidth:1}},
    txt(209,120,'ESCALA SEMANAL',15,'#777'),
    txt(894,270,'MEDIA MÓVIL QUE GUÍA TENDENCIA LATERAL MARCA',17,'#2ee82e'),
    txt(894,293,'PUNTO CLAVE RESISTENCIA EN 20 EUROS',17,'#2ee82e'),
    bez(930,258,1000,160,1080,28,1135,17,'#5ad84a'),
    bez(1135,17,1160,12,1178,26,1187,46,'#5ad84a'),
    {type:'polygon',z:45,shape:{points:[[1181,42],[1194,42],[1190,55]]},style:{fill:'#4fcf3f'}},
    txt(1208,55,'20',17,'#000'),
    txt(1160,150,'16',17,'#6b8e3a'),
    {type:'rect',z:50,shape:{x:690,y:217,width:48,height:15},style:{fill:'#fff',stroke:'#8b1a1a',lineWidth:1}},
    {type:'text',z:51,style:{x:714,y:225,text:'61,80%',font:'10px "Liberation Sans"',fill:'#a03030',textAlign:'center',textVerticalAlign:'middle'}},
    {type:'rect',z:50,shape:{x:1076,y:81,width:51,height:15},style:{fill:'#fff',stroke:'#8b1a1a',lineWidth:1}},
    {type:'text',z:51,style:{x:1101,y:89,text:'61,80%',font:'10px "Liberation Sans"',fill:'#a03030',textAlign:'center',textVerticalAlign:'middle'}},
    {type:'rect',z:60,shape:{x:1231,y:110,width:42,height:15},style:{fill:'#ffd400',stroke:'#b08a00',lineWidth:1}},
    {type:'text',z:61,style:{x:1252,y:118,text:'17,0400',font:'11px "Liberation Sans"',fill:'#000',textAlign:'center',textVerticalAlign:'middle'}},
    {type:'rect',z:60,shape:{x:816,y:443,width:27,height:10},style:{fill:'#ffe000'}},
    {type:'text',z:61,style:{x:829.5,y:448,text:'17,0400',font:'7px "Liberation Sans"',fill:'#222',textAlign:'center',textVerticalAlign:'middle'}},
    {type:'rect',z:60,shape:{x:816,y:891,width:27,height:9},style:{fill:'#ffe000'}},
    {type:'text',z:61,style:{x:829.5,y:895.5,text:'309.777',font:'7px "Liberation Sans"',fill:'#222',textAlign:'center',textVerticalAlign:'middle'}},
    txt(693,344,'C',16,'#ee1111'),
    txt(604,401,'H',16,'#ee1111'),
    txt(777,392,'H?',17,'#ee1111'),
    txt(819,393,'18,25',17,'#000'),
    txt(750,506,'16 euros claves',16,'#6e9b3a'),
    txt(633,638,'PROYECCIÓN BAJISTA TEÓRICA',17,'#ee1111'),
    txt(633,662,'EN 13 EUROS',17,'#ee1111'),
    txt(660,774,'ojo si pierde 16 euros con',16,'#000'),
    txt(660,797,'incremento de volumen',16,'#000'),
    txt(707,847,'!',16,'#000'),
    bez(770,797,800,795,808,812,808,876,'#333',[3,2]),
    {type:'polygon',z:45,shape:{points:[[802,872],[814,872],[808,888]]},style:{fill:'#111'}},
    txt(1163,663,'compresión',16,'#000'),
    {type:'rect',z:50,shape:{x:1137,y:677,width:52,height:43},style:{fill:'none',stroke:'#000',lineWidth:1}},
    {type:'rect',z:50,shape:{x:1107,y:779,width:92,height:63},style:{fill:'none',stroke:'#000',lineWidth:1}}
  ]
};
const chart=echarts.init(document.getElementById('c'),null,{width:1277,height:935});
chart.setOption(option);
</script></body></html>
